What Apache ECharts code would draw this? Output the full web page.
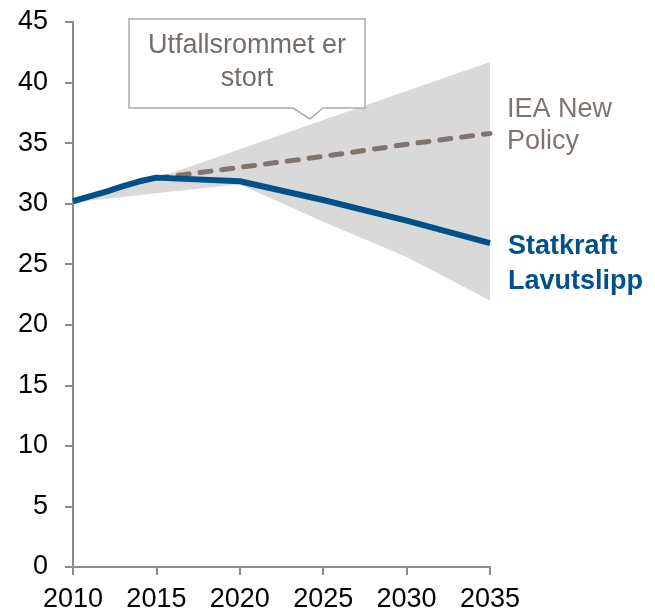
<!DOCTYPE html>
<html>
<head>
<meta charset="utf-8">
<script src="https://cdn.jsdelivr.net/npm/echarts@6/dist/echarts.min.js"></script>
<style>
  html, body { margin: 0; padding: 0; background: #fff; }
  #chart { width: 655px; height: 613px; }
</style>
</head>
<body>
<div id="chart"></div>
<script>
// data
const years = [2010, 2015, 2020, 2025, 2030, 2035]
const bandLow = [30.1, 30.85, 31.6, 28.5, 25.6, 22.0]
const bandHigh = [30.2, 32.1, 34.5, 36.9, 39.3, 41.7]

const statkraftYears = [2010, 2011, 2012, 2013, 2014, 2015, 2020, 2025, 2030, 2035]
const statkraft = [30.2, 30.6, 31.0, 31.45, 31.85, 32.15, 31.85, 30.3, 28.6, 26.75]

const ieaYears = [2015, 2020, 2025, 2030, 2035]
const iea = [32.1, 33.0, 33.9, 34.9, 35.8]

const yTicks = [0, 5, 10, 15, 20, 25, 30, 35, 40, 45]

const FONT = 'Liberation Sans, Arial, sans-serif'
const AXIS_GREY = '#8c8c8c'
const BLUE = '#00508c'
const IEA_GREY = '#7f746e'

const chart = echarts.init(document.getElementById('chart'))

// band polygon: along the top edge, then back along the bottom edge
const bandData = years.map((y, i) => [y, bandLow[i], bandHigh[i]])

const option = {
    animation: false,
    grid: {left: 73, right: 165, top: 22, bottom: 45, containLabel: false},
    xAxis: {
        type: 'value', min: 2010, max: 2035, interval: 5,
        axisLine: {show: true, lineStyle: {color: AXIS_GREY, width: 2}},
        axisTick: {show: true, length: 8, lineStyle: {color: AXIS_GREY, width: 2}},
        splitLine: {show: false},
        axisLabel: {fontFamily: FONT, fontSize: 27, color: '#000', margin: 19, formatter: v => String(v)}
    },
    yAxis: {
        type: 'value', min: yTicks[0], max: yTicks[yTicks.length - 1], interval: 5,
        axisLine: {show: true, lineStyle: {color: AXIS_GREY, width: 2}},
        axisTick: {show: true, length: 8, lineStyle: {color: AXIS_GREY, width: 2}},
        splitLine: {show: false},
        axisLabel: {fontFamily: FONT, fontSize: 27, color: '#000', margin: 25}
    },
    series: [
        {
            name: 'band', type: 'custom', z: 1,
            data: bandData,
            encode: {x: 0, y: [1, 2]},
            renderItem: (params, api) => {
                if (params.dataIndex !== 0) return null
                const top = bandData.map(d => api.coord([d[0], d[2]]))
                const bottom = bandData.map(d => api.coord([d[0], d[1]])).reverse()
                return {
                    type: 'polygon',
                    shape: {points: top.concat(bottom)},
                    style: {fill: '#d9d9d9'}
                }
            }
        },
        {
            name: 'IEA New Policy', type: 'line', symbol: 'none',
            data: ieaYears.map((y, i) => [y, iea[i]]),
            lineStyle: {color: IEA_GREY, width: 5, type: [11, 11], cap: 'round'}, z: 3
        },
        {
            name: 'Statkraft Lavutslipp', type: 'line', symbol: 'none',
            data: statkraftYears.map((y, i) => [y, statkraft[i]]),
            lineStyle: {color: BLUE, width: 6, join: 'round'}, z: 4
        }
    ],
    graphic: [
        {
            type: 'polygon', z: 10,
            shape: {points: [[129, 19], [365, 19], [365, 108], [323, 108], [310, 119], [293, 108], [129, 108]]},
            style: {fill: '#fff', stroke: '#b3aaa6', lineWidth: 1.5}
        },
        {
            type: 'text', z: 11, x: 247, y: 29,
            style: {text: 'Utfallsrommet er\nstort', font: '27px ' + FONT, fill: '#766d69', align: 'center', lineHeight: 33}
        },
        {
            type: 'text', z: 11, left: 507, top: 94,
            style: {text: 'IEA New\nPolicy', font: '27px ' + FONT, fill: IEA_GREY, lineHeight: 32}
        },
        {
            type: 'text', z: 11, left: 508, top: 229,
            style: {text: 'Statkraft\nLavutslipp', font: 'bold 27px ' + FONT, fill: BLUE, lineHeight: 35}
        }
    ]
}

chart.setOption(option)
</script>
</body>
</html>
